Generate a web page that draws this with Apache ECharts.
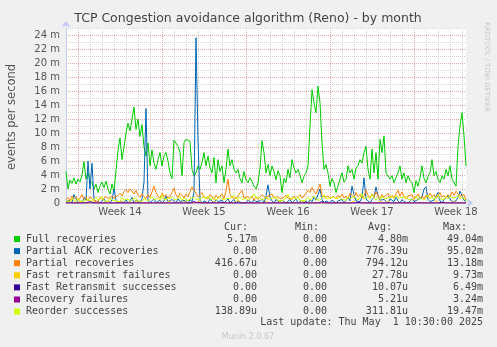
<!DOCTYPE html>
<html><head><meta charset="utf-8">
<script src="https://cdn.jsdelivr.net/npm/echarts@6/dist/echarts.min.js"></script>
<style>html,body{margin:0;padding:0;background:#f0f0f0;}#c{width:497px;height:347px;}</style>
</head><body><div id="c"></div>
<script>
// ---- text ----
const chartTitle = 'TCP Congestion avoidance algorithm (Reno) - by month';
const yAxisTitle = 'events per second';
const weekLabels = ['Week 14', 'Week 15', 'Week 16', 'Week 17', 'Week 18'];
const watermark = 'RRDTOOL / TOBI OETIKER';
const footer = 'Munin 2.0.67';
const lastUpdate = 'Last update: Thu May  1 10:30:00 2025';
const legendHeader = ['Cur:', 'Min:', 'Avg:', 'Max:'];

// ---- series ----
const seriesNames = ['Full recoveries', 'Partial ACK recoveries', 'Partial recoveries',
  'Fast retransmit failures', 'Fast Retransmit successes', 'Recovery failures', 'Reorder successes'];
const seriesColors = ['#00cc00', '#0066b3', '#ff8000', '#ffcc00', '#330099', '#990099', '#ccff00'];
const legendCur = ['5.17m', '0.00', '416.67u', '0.00', '0.00', '0.00', '138.89u'];
const legendMin = ['0.00', '0.00', '0.00', '0.00', '0.00', '0.00', '0.00'];
const legendAvg = ['4.80m', '776.39u', '794.12u', '27.78u', '10.07u', '5.21u', '311.81u'];
const legendMax = ['49.04m', '95.02m', '13.18m', '9.73m', '6.49m', '3.24m', '19.47m'];

// sample times: every 4 hours starting 2025-03-30 00:00 UTC
const startTime = Date.UTC(2025, 2, 30, 0, 0);
const stepHours = 4;

// values in milli-events per second
const fullRecoveries = [
4.5,2.0,3.3,2.8,3.6,2.7,3.4,3.0,4.0,5.9,
3.4,4.3,3.2,2.9,2.0,2.7,1.5,2.4,3.0,2.2,
3.1,2.0,1.3,2.7,1.7,1.5,7.5,9.3,6.2,8.0,
10.0,11.4,10.3,12.0,13.7,10.5,12.0,9.5,11.2,8.0,
6.7,8.6,5.3,7.6,5.7,4.8,6.2,7.2,5.3,6.7,
7.2,6.0,4.3,3.5,9.0,9.1,8.1,7.2,3.9,8.6,
9.1,8.9,8.8,4.8,3.9,4.3,5.3,4.8,5.8,7.2,
5.3,6.7,5.0,4.3,6.5,2.9,6.2,4.5,5.3,2.9,
4.8,7.7,5.3,6.2,4.8,4.3,4.8,3.5,2.9,4.5,
3.3,2.9,3.6,3.1,2.4,2.0,2.9,5.0,8.9,7.2,
4.3,5.5,3.9,5.3,4.5,3.3,4.6,3.9,1.5,3.5,
2.9,4.8,3.6,6.2,5.0,4.3,4.8,3.9,2.9,3.8,
4.3,5.3,11.0,16.2,14.3,12.9,16.7,14.3,8.6,4.8,
5.5,4.3,2.4,3.5,2.9,1.5,2.4,3.4,4.3,3.0,
3.4,5.3,4.3,4.8,3.4,5.0,5.3,6.2,5.7,7.2,
8.1,4.8,3.4,7.7,4.3,7.2,3.4,9.1,7.2,9.6,
4.3,4.3,3.4,3.9,2.9,3.6,4.3,5.3,3.4,4.3,
2.9,3.9,3.2,2.9,1.5,3.2,2.4,3.6,5.3,3.5,
2.9,3.8,4.3,6.2,3.9,4.5,3.4,2.9,3.9,3.4,
4.8,3.9,5.3,3.4,2.9,2.4,8.1,11.0,12.9,9.6,
5.3];
const partialAck = [
0.2,0,0.4,0,1.2,0.6,0,0.3,0,0.8,
0.4,6.0,2.0,5.7,0.5,0,0.3,0,0.2,0.6,
0,0.3,0,0.5,2.0,0.4,0,0.3,0.2,0,
0.5,0,0.3,0.8,0,0.4,0.2,0,0.6,3.0,
13.5,0.5,0,0.3,0.6,0,0.2,0.4,0,0.3,
1.0,0.2,0,0.5,0.3,0,0.6,0.2,0,0.4,
0.3,0,0.5,0.2,1.5,23.6,9.0,0.4,0,0.3,
0.2,0,0.6,0.3,0,0.5,0.2,0,0.4,0,
0.3,0.6,0,0.2,0.5,0,0.3,0.4,0,0.2,
0,0.4,0.3,0,0.5,0.2,0,0.3,0.6,0,
1.0,2.6,0.8,0.3,0,0.5,0.2,0,0.4,0.3,
0,0.2,0.5,0,0.3,0.6,0,0.2,0.4,0,
0.3,0,0.5,0.2,0.8,0.4,1.2,2.0,0.5,0,
0.3,0.2,0,0.4,0.6,0,0.3,0.2,0.5,0,
0.4,0.8,0.3,2.4,1.2,0.3,0.5,0.2,0.8,3.6,
0.6,0.3,0,0.5,0.8,2.3,1.0,0.4,0.2,0.5,
0.3,0,0.6,0.4,0.2,0.8,0.3,0,0.5,0.2,
0.4,0,0.3,0.6,0.2,0,0.5,0.3,0.8,2.0,
2.3,0.5,0.2,0,0.4,0.6,1.5,0.3,0,0.5,
0.3,1.0,0.6,0.2,0.4,0.3,0.8,1.7,1.5,0.4,
0.2];
const partialRecoveries = [
0.5,0.8,0.3,1.0,0.6,0.9,0.4,0.7,1.2,0.5,
0.8,0.3,0.9,1.1,0.4,0.6,0.2,0.8,0.5,0.3,
0.9,0.6,0.4,1.0,0.7,0.5,1.1,1.4,1.0,1.6,
1.9,1.5,2.0,1.7,1.3,1.8,1.1,0.8,1.3,0.9,
0.6,1.2,0.8,1.6,2.4,1.5,1.0,0.7,1.4,0.9,
1.2,0.6,1.0,1.5,2.1,1.2,0.8,1.4,1.1,0.7,
1.3,0.9,1.6,2.3,1.8,1.4,0.9,1.1,1.5,0.8,
1.0,0.6,1.2,0.9,0.5,1.1,0.7,0.9,1.3,0.6,
1.8,3.4,1.2,0.8,1.0,0.6,1.1,0.9,1.8,0.7,
0.5,0.9,0.6,1.0,0.4,0.8,0.5,0.7,1.2,0.9,
0.6,1.0,0.8,1.3,0.7,0.5,0.9,0.6,0.4,0.8,
1.1,0.7,0.9,0.5,1.0,0.6,0.8,1.2,0.7,1.0,
1.4,1.8,1.5,2.2,1.7,1.3,2.0,2.7,1.1,0.8,
0.6,1.0,0.7,0.5,0.9,0.6,1.1,0.8,1.3,0.7,
1.0,0.6,1.4,1.1,0.8,1.5,0.9,1.2,0.7,1.0,
1.8,1.1,0.7,1.3,0.9,1.6,1.0,0.6,1.2,0.8,
1.0,1.4,0.7,1.1,0.8,1.3,1.8,1.0,1.6,0.9,
0.6,1.0,0.8,1.2,0.5,0.9,1.3,0.7,1.0,0.6,
1.1,0.8,1.4,0.9,1.2,0.7,1.0,1.5,0.8,1.1,
0.7,1.2,0.9,1.6,1.1,1.7,1.3,1.0,0.8,1.2,
0.4];
const fastRetransFail = [
0,0,0.2,0,0,0,0,0.3,0,0,
0,0,0,0,0.2,0,0,0,0,0,
0,0.3,0,0,0,0,0,0,0.2,0,
0,0,0,0,0,0.4,0,0,0,0,
0,0,0,0.2,0,0,0,0,0,0,
0,0,0.3,0,0,0,0,0,0,0.2,
0,0,0,0,0,0,0,0.3,0,0,
0,0,0,0,0.2,0,0,0,0,0,
0,0,0,0,0,0,0.5,0,0,0,
0,0,0.2,0,0,0,0,0,0,0,
0.3,0,0,0,0,0,0,0.2,0,0,
0,0,0,0,0,0,0,0,0,0.3,
0,0,0,0.2,0,0,0,0,0,0,
0,0,0,0,0,0.2,0,0,0,0,
0,0,0,0,0.3,0,0,0,0,0,
0,0,0,0,0,0,0,0.2,0,0,
0,0.3,0,0,0,0,0,0,0,0,
0,0,0,0.2,0,0,0,0,0,0,
0,0,0,0,0,0.4,0,0,0,0,
0,0,0,0,0.2,0,0,0,0,0,
0];
const fastRetransSucc = [
0,0,0,0.1,0,0,0,0,0,0,
0,0,0.2,0,0,0,0,0,0,0,
0,0,0,0,0,0.1,0,0,0,0,
0,0,0,0,0,0,0,0.2,0,0,
0,0,0,0,0,0,0,0,0,0,
0,0.1,0,0,0,0,0,0,0,0,
0,0,0,0,0.2,0,0,0,0,0,
0,0,0,0,0,0,0,0,0.1,0,
0,0,0,0,0,0,0,0,0,0,
0,0,0,0,0,0.2,0,0,0,0,
0,0,0,0,0,0,0,0,0,0,
0,0.1,0,0,0,0,0,0,0,0,
0,0,0,0,0,0,0,0,0.2,0,
0,0,0,0,0,0,0,0,0,0,
0,0,0,0,0,0,0.1,0,0,0,
0,0,0,0,0,0,0,0,0,0,
0,0,0,0.2,0,0,0,0,0,0,
0,0,0,0,0,0,0,0,0,0,
0,0,0,0,0,0,0,0,0.1,0,
0,0,0,0,0,0,0,0,0,0,
0];
const recoveryFail = [
0,0,0,0,0,0,0,0,0,0,
0,0,0,0,0,0,0,0,0,0,
0,0,0,0,0,0,0,0,0,0,
0,0,0,0,0,0,0,0,0,0,
0,0,0,0,0,0,0,0,0,0,
0,0,0,0,0,0,0,0,0,0,
0,0,0,0,0,0,0.1,0,0,0,
0,0,0,0,0,0,0,0,0,0,
0,0,0,0,0,0,0,0,0,0,
0,0,0,0,0,0,0,0,0,0,
0,0,0,0,0,0,0,0,0,0,
0,0,0,0,0,0,0,0,0,0,
0,0,0,0,0,0,0,0,0,0,
0,0,0,0,0,0,0,0,0,0,
0,0,0,0,0,0,0,0,0,0,
0,0,0,0,0,0,0,0,0,0,
0,0,0,0,0,0,0,0,0,0,
0,0,0,0,0,0,0,0,0,0,
0,0,0,0,0,0,0,0,0,0,
0,0,0,0,0,0,0,0,0,0,
0];
const reorderSucc = [
0.3,0.5,0.2,0.6,0.4,0.2,0.7,0.3,0.5,0.2,
0.4,0.6,0.3,0.2,0.5,0.8,0.4,0.6,0.9,0.3,
0.5,0.2,0.7,0.4,0.6,0.3,0.5,0.2,0.8,0.4,
0.3,0.6,0.2,0.5,0.4,0.7,0.3,0.5,0.2,0.6,
0.4,0.3,0.6,0.9,0.5,0.3,0.7,0.4,1.2,0.5,
0.3,0.6,0.4,0.8,0.5,0.3,0.6,0.9,0.4,0.7,
0.5,0.3,0.6,0.4,0.8,0.5,0.3,0.6,0.4,0.9,
0.6,1.0,0.5,0.3,0.7,0.4,0.6,0.9,0.5,0.3,
0.6,0.4,0.7,0.5,1.1,0.6,0.4,0.8,0.5,0.3,
0.7,0.4,0.6,0.9,1.3,0.7,0.5,0.8,0.4,0.6,
0.9,0.5,0.3,0.7,0.5,0.8,0.4,0.6,0.3,0.5,
0.7,1.2,0.6,0.4,0.8,0.5,0.9,0.4,0.6,0.3,
0.5,0.8,0.4,0.6,1.0,0.5,0.7,0.4,0.8,1.2,
0.6,0.4,0.7,0.5,0.9,0.6,0.4,0.8,0.5,0.7,
0.4,0.9,0.6,0.5,1.0,0.7,0.4,0.8,1.3,0.6,
0.5,0.9,0.6,1.2,0.7,0.4,0.8,0.5,1.0,0.6,
0.4,0.7,0.5,0.9,0.6,1.1,0.7,0.5,0.8,0.6,
0.9,0.5,0.7,0.4,0.6,1.0,0.5,0.8,0.6,0.4,
0.7,1.1,0.6,0.9,0.5,0.7,1.2,0.6,0.8,0.5,
0.9,0.6,1.0,0.7,0.5,0.8,1.1,0.6,0.9,0.7,
0.3];
const seriesData = [fullRecoveries, partialAck, partialRecoveries, fastRetransFail,
  fastRetransSucc, recoveryFail, reorderSucc];

// ---- build ----
const HOUR = 3600 * 1000, DAY = 24 * HOUR;
const categories = fullRecoveries.map((_, i) => startTime + i * stepHours * HOUR);
const firstMonday = Date.UTC(2025, 2, 31, 0, 0);
const isDay = t => new Date(t).getUTCHours() === 0;
const isWeek = t => { const d = new Date(t); return d.getUTCDay() === 1 && d.getUTCHours() === 0; };
const isMidWeek = t => { const d = new Date(t); return d.getUTCDay() === 4 && d.getUTCHours() === 12; };

const chart = echarts.init(document.getElementById('c'), null, {renderer: 'canvas'});
const axisCol = '#c4c8f4';
const txt = '#555';
const minorCol = '#d2d2d2';
const majorCol = '#e4a8a8';
const mono = '10px "DejaVu Sans Mono"';
const gfx = [];
gfx.push({type: 'text', x: 248, y: 19, style: {text: chartTitle, font: '12.5px "DejaVu Sans"', fill: '#444', textAlign: 'center', textVerticalAlign: 'middle', align: 'center', verticalAlign: 'middle'}});
gfx.push({type: 'text', x: 12, y: 117, rotation: Math.PI / 2, style: {text: yAxisTitle, font: '11.5px "DejaVu Sans"', fill: txt, textAlign: 'center', textVerticalAlign: 'middle', align: 'center', verticalAlign: 'middle'}});
gfx.push({type: 'text', x: 487, y: 67, rotation: -Math.PI / 2, style: {text: watermark, font: '7px "DejaVu Sans"', fill: '#c8c8c8', textAlign: 'center', textVerticalAlign: 'middle', align: 'center', verticalAlign: 'middle'}});
gfx.push({type: 'text', x: 248, y: 337, style: {text: footer, font: '8px "DejaVu Sans"', fill: '#c8c8c8', textAlign: 'center', textVerticalAlign: 'middle', align: 'center', verticalAlign: 'middle'}});
const colRight = [257, 327, 408, 483];
const hdrRight = [248, 319, 392, 467];
legendHeader.forEach((h, k) => gfx.push({type: 'text', x: hdrRight[k], y: 227, style: {text: h, font: mono, fill: '#444', textAlign: 'right', textVerticalAlign: 'middle', align: 'right', verticalAlign: 'middle'}}));
seriesNames.forEach((n, r) => {
  const y = 239 + r * 12.1;
  gfx.push({type: 'rect', shape: {x: 14, y: y - 3, width: 6, height: 6}, style: {fill: seriesColors[r]}});
  gfx.push({type: 'text', x: 26, y: y, style: {text: n, font: mono, fill: '#444', textAlign: 'left', textVerticalAlign: 'middle', align: 'left', verticalAlign: 'middle'}});
  [legendCur[r], legendMin[r], legendAvg[r], legendMax[r]].forEach((v, k) =>
    gfx.push({type: 'text', x: colRight[k], y: y, style: {text: v, font: mono, fill: '#444', textAlign: 'right', textVerticalAlign: 'middle', align: 'right', verticalAlign: 'middle'}}));
});
gfx.push({type: 'text', x: 483, y: 322, style: {text: lastUpdate, font: mono, fill: '#444', textAlign: 'right', textVerticalAlign: 'middle', align: 'right', verticalAlign: 'middle'}});

const option = {
  animation: false,
  backgroundColor: '#f0f0f0',
  grid: {left: 66, top: 28, width: 400, height: 175, show: true, backgroundColor: '#ffffff', borderWidth: 0},
  xAxis: [{
    type: 'category', data: categories, boundaryGap: false,
    axisLine: {show: true, lineStyle: {color: axisCol, width: 1}, symbol: ['none', 'arrow'], symbolSize: [7, 6], symbolOffset: [0, 7]},
    axisTick: {show: false},
    axisLabel: {
      interval: (i, v) => isMidWeek(Number(v)), margin: 4,
      formatter: v => weekLabels[Math.round((Number(v) - firstMonday - 3.5 * DAY) / (7 * DAY))] || '',
      color: txt, fontFamily: 'DejaVu Sans', fontSize: 10
    },
    splitLine: {show: true, interval: (i, v) => isDay(Number(v)), lineStyle: {color: minorCol, type: [1, 1], width: 1}}
  }, {
    type: 'category', data: categories, boundaryGap: false, position: 'bottom',
    axisLine: {show: false}, axisTick: {show: false}, axisLabel: {show: false},
    splitLine: {show: true, interval: (i, v) => isWeek(Number(v)), lineStyle: {color: majorCol, type: [1, 1], width: 1}}
  }],
  yAxis: [{
    type: 'value', min: 0, max: 25, interval: 1,
    axisLine: {show: true, lineStyle: {color: axisCol, width: 1}, symbol: ['none', 'arrow'], symbolSize: [7, 6], symbolOffset: [0, 7]},
    axisTick: {show: false},
    axisLabel: {formatter: v => v === 0 ? '0' : (v % 2 === 0 ? v + ' m' : ''), color: txt, fontFamily: 'DejaVu Sans', fontSize: 10, margin: 6},
    splitLine: {show: true, lineStyle: {color: minorCol, type: [1, 1], width: 1}}
  }, {
    type: 'value', min: 0, max: 25, interval: 2, position: 'left',
    axisLine: {show: false}, axisTick: {show: false}, axisLabel: {show: false},
    splitLine: {show: true, showMaxLine: false, lineStyle: {color: majorCol, type: [1, 1], width: 1}}
  }],
  series: seriesNames.map((n, k) => ({
    name: n, type: 'line', data: seriesData[k], symbol: 'none', xAxisIndex: 0, yAxisIndex: 0,
    lineStyle: {color: seriesColors[k], width: 1}, itemStyle: {color: seriesColors[k]},
    emphasis: {disabled: true}, silent: true, z: 2 + k
  })),
  graphic: gfx
};
chart.setOption(option);
</script></body></html>
